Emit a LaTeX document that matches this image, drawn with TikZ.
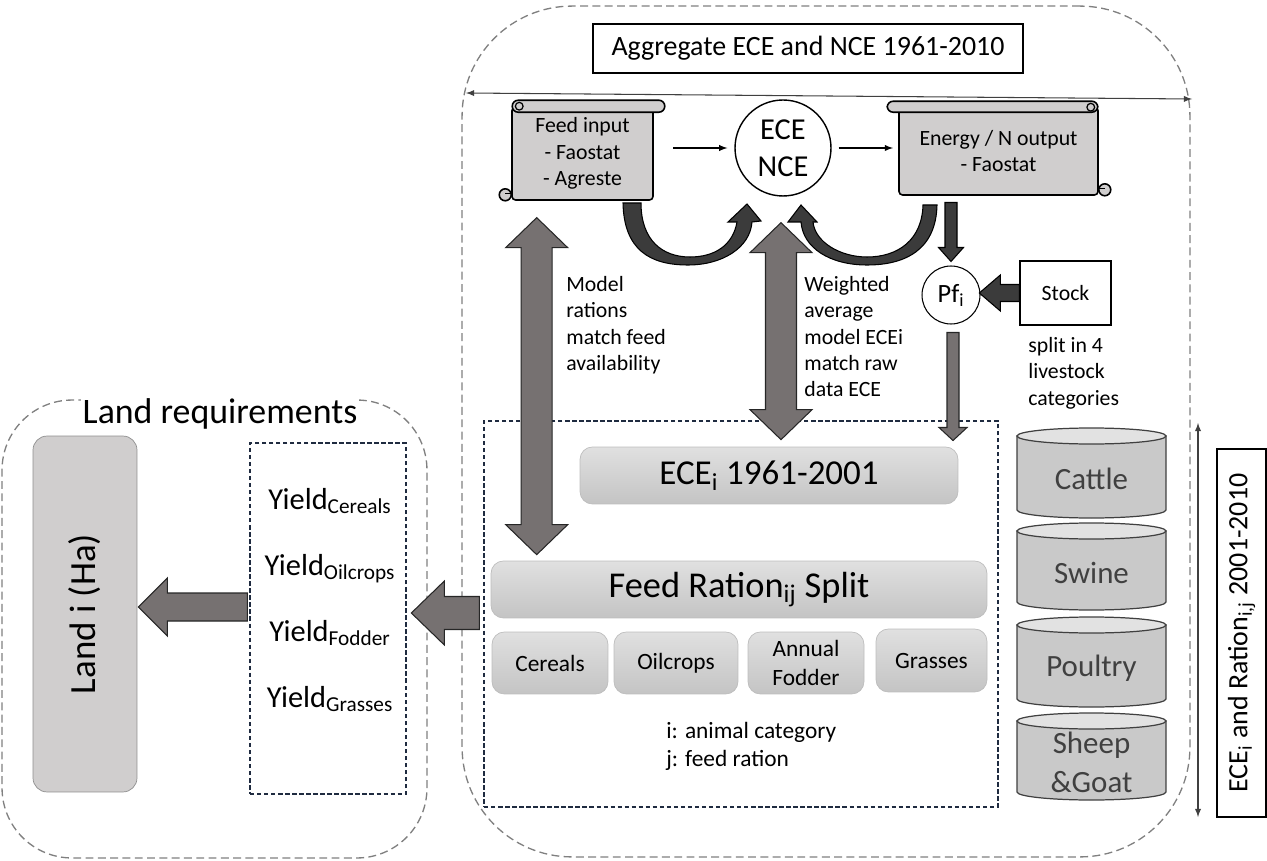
\documentclass[tikz,border=0pt]{standalone}
\usepackage{fontspec}
\setmainfont{Carlito}
\usetikzlibrary{calc}

\definecolor{framegray}{HTML}{808080}
\definecolor{boxnavy}{HTML}{1F2B40}
\definecolor{scrollfill}{HTML}{D0CECE}
\definecolor{landline}{HTML}{8F8F8F}
\definecolor{arrowgray}{HTML}{767171}
\definecolor{arrowdark}{HTML}{3B3B3B}
\definecolor{pilltop}{HTML}{E0E0E0}
\definecolor{pillbottom}{HTML}{C4C4C4}
\definecolor{pillline}{HTML}{BDBDBD}
\definecolor{cylbody}{HTML}{C9C9C9}
\definecolor{cyltop}{HTML}{E2E2E2}
\definecolor{labelgray}{HTML}{404040}

\begin{document}
\begin{tikzpicture}[> = latex, x = 0.02cm, y = -0.02cm,
	frame/.style = {draw = framegray, line width = 0.75pt, dash pattern = on 4.5pt off 2.5pt},
	region/.style = {draw = boxnavy, line width = 0.8pt, dash pattern = on 2.5pt off 1.5pt},
	scroll/.style = {draw, fill = scrollfill, line width = 0.9pt, rounded corners = 2pt},
	pill/.style = {draw = pillline, top color = pilltop, bottom color = pillbottom, rounded corners = 7pt, inner sep = 0pt},
	bigarrow/.style = {fill = arrowgray, draw = black!85, line width = 0.6pt},
	darkarrow/.style = {fill = arrowdark, draw = black, line width = 0.6pt},
	small/.style = {font = \fontsize{12.4}{15}\selectfont},
	crop/.style = {font = \fontsize{13.3}{16}\selectfont}]

\useasboundingbox (0, 0) rectangle (1267, 861);

% Block arrows: style, tail, angle, length, shaft, head, head length

\def\blockarrow#1#2#3#4#5#6#7{%
	\draw [#1, shift = {#2}, rotate = #3] (0, -#5) -- (#4 - #7, -#5) -- (#4 - #7, -#6) -- (#4, 0) -- (#4 - #7, #6) -- (#4 - #7, #5) -- (0, #5) -- cycle;
}
\def\doubleblock#1#2#3#4#5#6#7{%
	\draw [#1, shift = {#2}, rotate = #3] (0, 0) -- (#7, -#6) -- (#7, -#5) -- (#4 - #7, -#5) -- (#4 - #7, -#6) -- (#4, 0) -- (#4 - #7, #6) -- (#4 - #7, #5) -- (#7, #5) -- (#7, #6) -- cycle;
}

% The two frames

\node (agg-frame) [frame, minimum width = 14.56cm, minimum height = 17.02cm, rounded corners = 2.2cm] at (826, 431.5) {};
\node (land-frame) [frame, minimum width = 8.5cm, minimum height = 9.16cm, rounded corners = 1.4cm] at (214.5, 629) {};

\node (agg) [draw, line width = 0.8pt, minimum width = 8.6cm, minimum height = 0.98cm, font = \fontsize{15.9}{19}\selectfont] at (808, 48.5) {Aggregate ECE and NCE 1961-2010};
\node (land-title) [fill = white, inner sep = 1pt, font = \fontsize{20.4}{24}\selectfont] at (220, 414) {Land requirements};

\coordinate (span-left) at (466, 93);
\coordinate (span-right) at (1192, 99);
\draw [<->, line width = 0.6pt, labelgray] (span-left) -- (span-right);

% Feed input scroll

\node (feed) [scroll, minimum width = 2.82cm, minimum height = 1.86cm, align = center, small] at (582.5, 153.5) {Feed input\\- Faostat\\- Agreste};
\draw [scroll, rounded corners = 3.4pt] ($(feed.north west) + (1, -6)$) rectangle ($(feed.north east) + (11, 6)$);
\draw [line width = 0.7pt] ($(feed.north west) + (8, 0)$) circle (2.2pt);
\draw [scroll] ($(feed.south west) + (-6, -6)$) circle (3.4pt);
\draw [line width = 0.7pt] ($(feed.south west) + (-6, -7)$) -- ($(feed.south west) + (0, -7)$);

% Energy output scroll

\node (energy) [scroll, minimum width = 3.98cm, minimum height = 1.76cm, align = center, small] at (998.5, 151) {Energy / N output\\- Faostat};
\draw [scroll, rounded corners = 3.4pt] ($(energy.north west) + (-11, -5)$) rectangle ($(energy.north east) + (-1, 6)$);
\draw [line width = 0.7pt] ($(energy.north east) + (-8, 1)$) circle (2.2pt);
\draw [scroll] ($(energy.south east) + (6, -6)$) circle (3.4pt);
\draw [line width = 0.7pt] ($(energy.south east) + (0, -7)$) -- ($(energy.south east) + (6, -7)$);

% ECE / NCE

\node (ece) [circle, draw, line width = 0.8pt, minimum size = 1.92cm, inner sep = 0pt, align = center, font = \fontsize{17.3}{21}\selectfont] at (783, 148) {ECE\\NCE};

\draw [->, line width = 0.6pt, shorten < = 11pt, shorten > = 4pt] (feed.east |- ece.west) -- (ece.west);
\draw [->, line width = 0.6pt, shorten < = 4pt, shorten > = 3pt] (ece.east) -- (ece.east -| energy.west);

% Curved arrows into ECE / NCE

\draw [darkarrow] (623, 203) .. controls (624, 250) and (650, 265) .. (688, 265)
	.. controls (722, 265) and (750, 248) .. (752, 222) -- (761, 221) -- (747, 204) -- (728, 222) -- (737, 222)
	.. controls (733, 245) and (715, 257) .. (690, 257) .. controls (662, 257) and (641, 240) .. (641, 203) -- cycle;
\draw [darkarrow] (937, 205) .. controls (936, 250) and (905, 265) .. (867, 265)
	.. controls (830, 265) and (803, 248) .. (801, 222) -- (788, 222) -- (801, 205) -- (817, 222) -- (813, 222)
	.. controls (815, 242) and (840, 257) .. (867, 257) .. controls (898, 257) and (922, 240) .. (923, 205) -- cycle;

% Production per head and stock

\node (pf) [circle, draw, line width = 0.6pt, minimum size = 1.16cm, inner sep = 0pt, font = \fontsize{15}{18}\selectfont] at (951, 295) {Pf\textsubscript{i}};
\node (stock) [draw, line width = 0.8pt, minimum width = 1.82cm, minimum height = 1.28cm, small] at (1065.5, 293) {Stock};
\node (split) [anchor = north west, inner sep = 0pt, align = left, small] at (1028, 337) {split in 4\\livestock\\categories};

\node (rations-note) [anchor = north west, inner sep = 0pt, align = left, small] at (566, 276) {Model\\rations\\match feed\\availability};
\node (weight-note) [anchor = north west, inner sep = 0pt, align = left, small] at (804, 276) {Weighted\\average\\model ECEi\\match raw\\data ECE};

% Model box

\node (model) [region, minimum width = 10.28cm, minimum height = 7.72cm] at (741, 614) {};
\node (ecei) [pill, minimum width = 7.56cm, minimum height = 1.14cm, font = \fontsize{19.9}{24}\selectfont] at (769, 475.5) {ECE\textsubscript{i} 1961-2001};
\node (ration) [pill, minimum width = 9.92cm, minimum height = 1.14cm, font = \fontsize{20.7}{25}\selectfont] at (739, 589.5) {Feed Ration\textsubscript{ij} Split};

\node (cereals) [pill, minimum width = 2.32cm, minimum height = 1.24cm, crop] at (550, 663) {Cereals};
\node (oilcrops) [pill, minimum width = 2.48cm, minimum height = 1.24cm, crop] at (676, 663) {Oilcrops};
\node (fodder) [pill, minimum width = 2.32cm, minimum height = 1.24cm, align = center, crop] at (806, 663) {Annual\\Fodder};
\node (grasses) [pill, minimum width = 2.22cm, minimum height = 1.26cm, crop] at (931.5, 660.5) {Grasses};

\node (legend) [anchor = north west, inner sep = 0pt, align = left, crop] at (666, 722) {i: animal category\\j: feed ration};

% Land requirements

\node (yield) [region, minimum width = 3.12cm, minimum height = 7.02cm] at (328, 618.5) {};
\node (yields) [inner sep = 0pt, align = center, font = \fontsize{17.3}{37.5}\selectfont] at (330, 600) {Yield\textsubscript{Cereals}\\Yield\textsubscript{Oilcrops}\\Yield\textsubscript{Fodder}\\Yield\textsubscript{Grasses}};
\node (land) [draw = landline, fill = scrollfill, rounded corners = 8pt, rotate = 90, minimum width = 7.12cm, minimum height = 2.08cm, font = \fontsize{21}{25}\selectfont] at (85, 614) {Land i (Ha)};

% Livestock categories

\foreach \ytop/\ybot/\kind [count = \k] in {428/518/Cattle, 523/610/Swine, 617/707/Poultry, 713/800/{Sheep\\\&Goat}}{
	\filldraw [fill = cylbody, draw = labelgray, line width = 0.7pt] (1017, \ytop + 8) -- (1017, \ybot - 8) arc (180 : 360 : 1.49cm and 0.16cm) -- (1166, \ytop + 8) -- cycle;
	\filldraw [fill = cyltop, draw = labelgray, line width = 0.7pt] (1091.5, \ytop + 8) ellipse (1.49cm and 0.16cm);
	\node (stock-\k) [align = center, labelgray, font = \fontsize{17.6}{22}\selectfont] at (1091.5, {(\ytop + \ybot) / 2 + 6}) {\kind};
}

\coordinate (span-top) at (1198, 423);
\coordinate (span-bottom) at (1198, 817);
\draw [<->, line width = 0.6pt, labelgray] (span-top) -- (span-bottom);

\node (later) [draw, line width = 0.8pt, rotate = 90, minimum width = 7.36cm, minimum height = 0.98cm, font = \fontsize{15.9}{19}\selectfont] at (1241.5, 633) {ECE\textsubscript{i} and Ration\textsubscript{i,j} 2001-2010};

% Block arrows

\doubleblock{bigarrow}{($(ration.north west) + (46, -6)$)}{90}{337}{15.5}{31}{30}
\doubleblock{bigarrow}{($(ecei.north) + (12, -7)$)}{90}{217}{15.5}{31}{30}
\blockarrow{darkarrow}{($(pf.north) + (0, -63)$)}{-90}{59}{6}{12.5}{14}
\blockarrow{darkarrow}{(stock.west)}{180}{40}{8.5}{18}{21}
\blockarrow{bigarrow}{($(pf.south) + (2, 8)$)}{-90}{108}{6}{14}{13}
\blockarrow{bigarrow}{($(yield.west) + (-2, -11.5)$)}{180}{109}{14}{29}{29}
\blockarrow{bigarrow}{($(model.west) + (-4, -1)$)}{180}{68}{16.5}{32}{33}

\end{tikzpicture}
\end{document}
